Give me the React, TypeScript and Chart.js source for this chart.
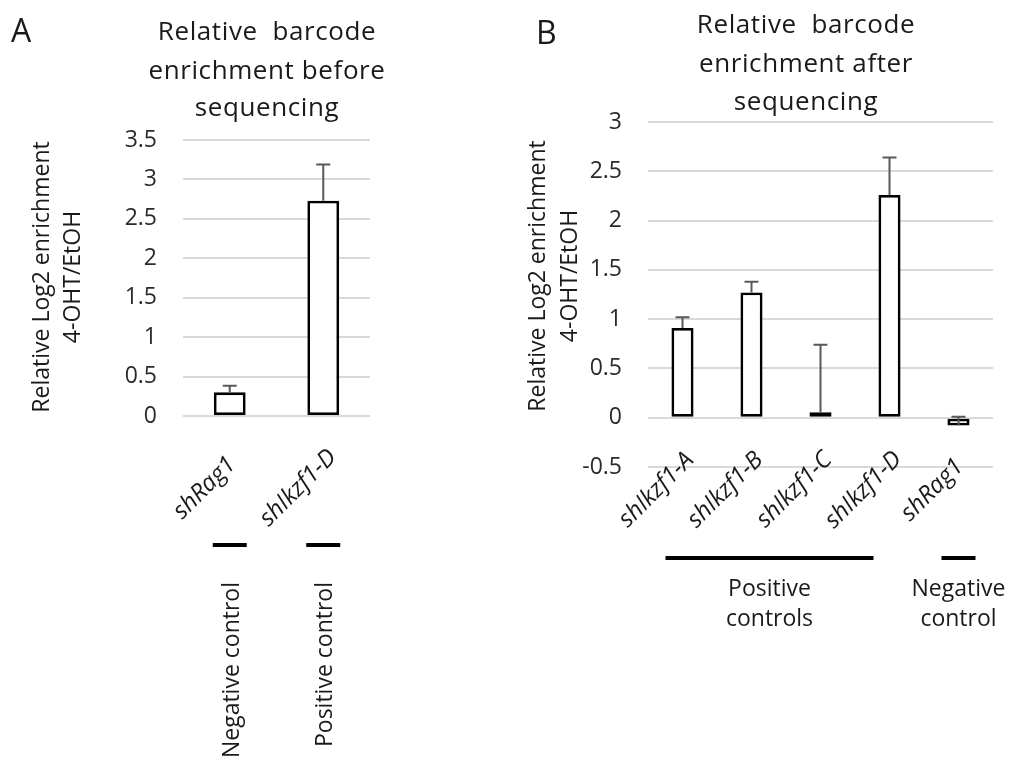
import React, { useEffect, useRef } from 'react';
import { Chart, registerables } from 'chart.js';

Chart.register(...registerables);

const FONT = "'Open Sans', sans-serif";
const W = '500';

// ---------- Panel A data ----------
const categoriesA = ['shRag1', 'shIkzf1-D'];
const valuesA = [0.3, 2.73];
const errorsA = [0.085, 0.46];
const titleA = ['Relative  barcode', 'enrichment before', 'sequencing'];
const groupLabelsA = ['Negative control', 'Positive control'];
const groupStartA = [0, 1];
const groupEndA = [0, 1];

// ---------- Panel B data ----------
const categoriesB = ['shIkzf1-A', 'shIkzf1-B', 'shIkzf1-C', 'shIkzf1-D', 'shRag1'];
const valuesB = [0.91, 1.27, 0.055, 2.26, -0.08];
const errorsB = [0.11, 0.11, 0.685, 0.38, 0.09];
const titleB = ['Relative  barcode', 'enrichment after', 'sequencing'];
const groupLabelsB = [['Positive', 'controls'], ['Negative', 'control']];
const groupStartB = [0, 4];
const groupEndB = [3, 4];

// ---------- shared ----------
const yTitleLines = ['Relative Log2 enrichment', '4-OHT/EtOH'];
const yRangeA = [0, 3.5];
const yRangeB = [-0.5, 3];
const yStep = 0.5;

const TEXT = '#1a1a1a';

const errorBarPlugin = {
  id: 'errorBars',
  afterDatasetsDraw(chart: any, _args: any, opts: any) {
    const { ctx } = chart;
    const meta = chart.getDatasetMeta(0);
    const yScale = chart.scales.y;
    const vals = chart.data.datasets[0].data as number[];
    const errs = opts.errors as number[];
    ctx.save();
    ctx.strokeStyle = '#595959';
    ctx.lineWidth = 2;
    meta.data.forEach((bar: any, i: number) => {
      const x = bar.x;
      const y0 = yScale.getPixelForValue(vals[i]);
      const y1 = yScale.getPixelForValue(vals[i] + errs[i]);
      ctx.beginPath();
      ctx.moveTo(x, y0);
      ctx.lineTo(x, y1);
      ctx.moveTo(x - 7, y1);
      ctx.lineTo(x + 7, y1);
      ctx.stroke();
    });
    ctx.restore();
  },
};

const decorPlugin = {
  id: 'decor',
  afterDraw(chart: any, _args: any, o: any) {
    const { ctx } = chart;
    const xScale = chart.scales.x;
    ctx.save();
    // panel letter
    ctx.fillStyle = TEXT;
    ctx.font = `${W} 32px ${FONT}`;
    ctx.textAlign = 'left';
    ctx.textBaseline = 'alphabetic';
    ctx.fillText(o.letter, o.letterX, o.letterY);

    // title
    ctx.font = `${W} 26px ${FONT}`;
    ctx.fillStyle = TEXT;
    ctx.textAlign = 'center';
    (ctx as any).letterSpacing = '0.6px';
    o.title.forEach((line: string, i: number) => {
      ctx.fillText(line, o.titleX, o.titleY[i]);
    });
    (ctx as any).letterSpacing = '0px';

    // y axis title
    ctx.font = `${W} 23px ${FONT}`;
    ctx.fillStyle = TEXT;
    yTitleLines.forEach((line, i) => {
      ctx.save();
      ctx.translate(o.yTitleX[i], o.yTitleY);
      ctx.rotate(-Math.PI / 2);
      ctx.textAlign = 'center';
      ctx.textBaseline = 'middle';
      ctx.fillText(line, 0, 0);
      ctx.restore();
    });

    // rotated category labels
    ctx.font = `italic ${W} 24px ${FONT}`;
    ctx.fillStyle = TEXT;
    chart.data.labels.forEach((lab: string, i: number) => {
      const cx = xScale.getPixelForValue(i);
      ctx.save();
      ctx.translate(cx + o.labelDx, o.labelY);
      ctx.rotate(-Math.PI / 4);
      ctx.textAlign = 'center';
      ctx.textBaseline = 'middle';
      ctx.fillText(lab, 0, 0);
      ctx.restore();
    });

    // group underlines and labels
    o.groupStart.forEach((s: number, g: number) => {
      const e = o.groupEnd[g];
      const x0 = xScale.getPixelForValue(s) - 17;
      const x1 = xScale.getPixelForValue(e) + 17 - (e - s) * 11;
      ctx.fillStyle = '#000';
      ctx.fillRect(x0, o.underlineY - 2, x1 - x0, 4);
      ctx.font = `${W} 23px ${FONT}`;
      ctx.fillStyle = TEXT;
      if (o.groupMode === 'vertical') {
        const cx = xScale.getPixelForValue(s);
        ctx.save();
        ctx.translate(cx + 9, o.groupTextY[0]);
        ctx.rotate(-Math.PI / 2);
        ctx.textAlign = 'right';
        ctx.textBaseline = 'alphabetic';
        ctx.fillText(o.groupLabels[g], 0, 0);
        ctx.restore();
      } else {
        const mid = (x0 + x1) / 2;
        ctx.textAlign = 'center';
        ctx.textBaseline = 'alphabetic';
        (o.groupLabels[g] as string[]).forEach((line, k) => {
          ctx.fillText(line, mid, o.groupTextY[k]);
        });
      }
    });
    ctx.restore();
  },
};

function makeConfig(
  labels: string[],
  values: number[],
  errors: number[],
  yRange: number[],
  barPct: number,
  padding: any,
  decor: any
): any {
  return {
    type: 'bar',
    data: {
      labels,
      datasets: [
        {
          data: values,
          backgroundColor: '#ffffff',
          borderColor: '#000000',
          borderWidth: 2.8,
          borderSkipped: false,
          barPercentage: barPct,
          categoryPercentage: 1,
        },
      ],
    },
    options: {
      responsive: false,
      animation: false,
      events: [],
      layout: { padding },
      plugins: {
        legend: { display: false },
        tooltip: { enabled: false },
        title: { display: false },
        errorBars: { errors },
        decor,
      },
      scales: {
        x: { display: false },
        y: {
          min: yRange[0],
          max: yRange[1],
          afterFit: (scale: any) => {
            scale.width = 70;
          },
          ticks: {
            stepSize: yStep,
            padding: 26,
            color: '#2b2b2b',
            font: { family: FONT, size: 23, weight: W },
            callback: (v: any) => String(Math.round(Number(v) * 10) / 10),
          },
          grid: { color: '#d9d9d9', lineWidth: 2, drawTicks: false },
          border: { display: false },
        },
      },
    },
    plugins: [errorBarPlugin, decorPlugin],
  };
}

export default function App() {
  const refA = useRef<HTMLCanvasElement>(null);
  const refB = useRef<HTMLCanvasElement>(null);

  useEffect(() => {
    Chart.defaults.font.family = FONT;
    const chartA = new Chart(
      refA.current as HTMLCanvasElement,
      makeConfig(
        categoriesA,
        valuesA,
        errorsA,
        yRangeA,
        0.34,
        { left: 113, right: 641, top: 140, bottom: 346 },
        {
          letter: 'A',
          letterX: 11,
          letterY: 42,
          title: titleA,
          titleX: 267,
          titleY: [40, 79, 116],
          yTitleX: [42, 73],
          yTitleY: 277,
          labelDx: -25,
          labelY: 488,
          underlineY: 545,
          groupStart: groupStartA,
          groupEnd: groupEndA,
          groupLabels: groupLabelsA,
          groupMode: 'vertical',
          groupTextY: [582],
        }
      )
    );
    const chartB = new Chart(
      refB.current as HTMLCanvasElement,
      makeConfig(
        categoriesB,
        valuesB,
        errorsB,
        yRangeB,
        0.32,
        { left: 578, right: 18, top: 122, bottom: 295 },
        {
          letter: 'B',
          letterX: 536,
          letterY: 44,
          title: titleB,
          titleX: 806,
          titleY: [33, 72, 110],
          yTitleX: [538, 570],
          yTitleY: 276,
          labelDx: -26,
          labelY: 490,
          underlineY: 558,
          groupStart: groupStartB,
          groupEnd: groupEndB,
          groupLabels: groupLabelsB,
          groupMode: 'horizontal',
          groupTextY: [596, 626],
        }
      )
    );
    return () => {
      chartA.destroy();
      chartB.destroy();
    };
  }, []);

  const canvasStyle: React.CSSProperties = {
    position: 'absolute',
    left: 0,
    top: 0,
    width: 1011,
    height: 762,
  };

  return (
    <div
      style={{
        position: 'fixed',
        left: 0,
        top: 0,
        width: 1011,
        height: 762,
        background: '#ffffff',
        overflow: 'hidden',
      }}
    >
      <canvas ref={refA} width={1011} height={762} style={canvasStyle} />
      <canvas ref={refB} width={1011} height={762} style={canvasStyle} />
    </div>
  );
}
